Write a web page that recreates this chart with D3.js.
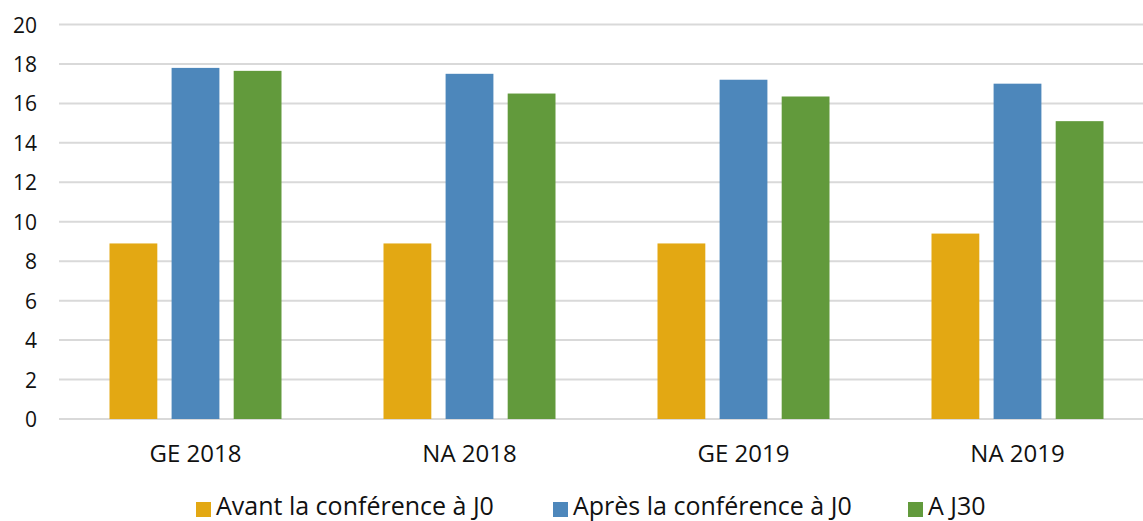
<!DOCTYPE html>
<html><head><meta charset="utf-8">
<script src="https://cdn.jsdelivr.net/npm/d3@7"></script>
<style>body{margin:0;background:#fff}svg{display:block}text{font-family:"Open Sans",Lato,sans-serif;fill:#111}</style>
</head><body>
<svg id="c" width="1143" height="521"></svg>
<script>
const categories = ["GE 2018", "NA 2018", "GE 2019", "NA 2019"];
const seriesNames = ["Avant la conférence à J0", "Après la conférence à J0", "A J30"];
const avant = [8.9, 8.9, 8.9, 9.4];
const apres = [17.8, 17.5, 17.2, 17.0];
const j30 = [17.65, 16.5, 16.35, 15.1];
const yTicks = [0, 2, 4, 6, 8, 10, 12, 14, 16, 18, 20];
const colors = ["#E3A813", "#4D87BB", "#629A3C"];

const seriesValues = [avant, apres, j30];
const FONT = "'Open Sans',Lato,sans-serif";
const svg = d3.select("#c");
const y = d3.scaleLinear().domain([0, 20]).range([419, 24.5]);
const x0 = d3.scaleBand().domain(categories).range([58.5, 1154.5]);
const x1 = d3.scaleBand().domain(seriesNames).range([51, 223]).paddingInner(0.23);

// gridlines
svg.append("g").selectAll("line").data(yTicks).join("line")
  .attr("x1", 59).attr("x2", 1143)
  .attr("y1", d => y(d)).attr("y2", d => y(d))
  .attr("stroke", "#d9d9d9").attr("stroke-width", 2);

// y axis labels
const yAxis = d3.axisLeft(y).tickValues(yTicks).tickSize(0).tickPadding(0);
const ya = svg.append("g").attr("transform", "translate(37,0)").call(yAxis);
ya.select(".domain").remove();
ya.selectAll("text").attr("font-size", 21).attr("font-family", FONT).attr("font-weight", 500).attr("fill", "#111").attr("dy", "0.36em");

// bars
const groups = svg.append("g").selectAll("g").data(categories).join("g")
  .attr("transform", d => `translate(${x0(d)},0)`);
groups.selectAll("rect").data((d, i) => seriesNames.map((s, j) => ({s, j, v: seriesValues[j][i]})))
  .join("rect")
  .attr("x", d => x1(d.s)).attr("width", x1.bandwidth())
  .attr("y", d => y(d.v)).attr("height", d => y(0) - y(d.v))
  .attr("fill", d => colors[d.j]);

// x axis labels
const xAxis = d3.axisBottom(x0).tickSize(0).tickPadding(0);
const xa = svg.append("g").attr("transform", "translate(0,0)").call(xAxis);
xa.select(".domain").remove();
xa.selectAll("text").attr("font-size", 24).attr("font-family", FONT).attr("font-weight", 500).attr("fill", "#111").attr("y", 462).attr("dy", 0);

// legend
const legendX = [196, 553, 908];
const lg = svg.append("g").selectAll("g").data(seriesNames).join("g")
  .attr("transform", (d, i) => `translate(${legendX[i]},0)`);
lg.append("rect").attr("y", 502).attr("width", 15).attr("height", 15).attr("fill", (d, i) => colors[i]);
lg.append("text").attr("x", 20).attr("y", 515).attr("font-size", 25).attr("font-weight", 500).text(d => d);
</script>
</body></html>
